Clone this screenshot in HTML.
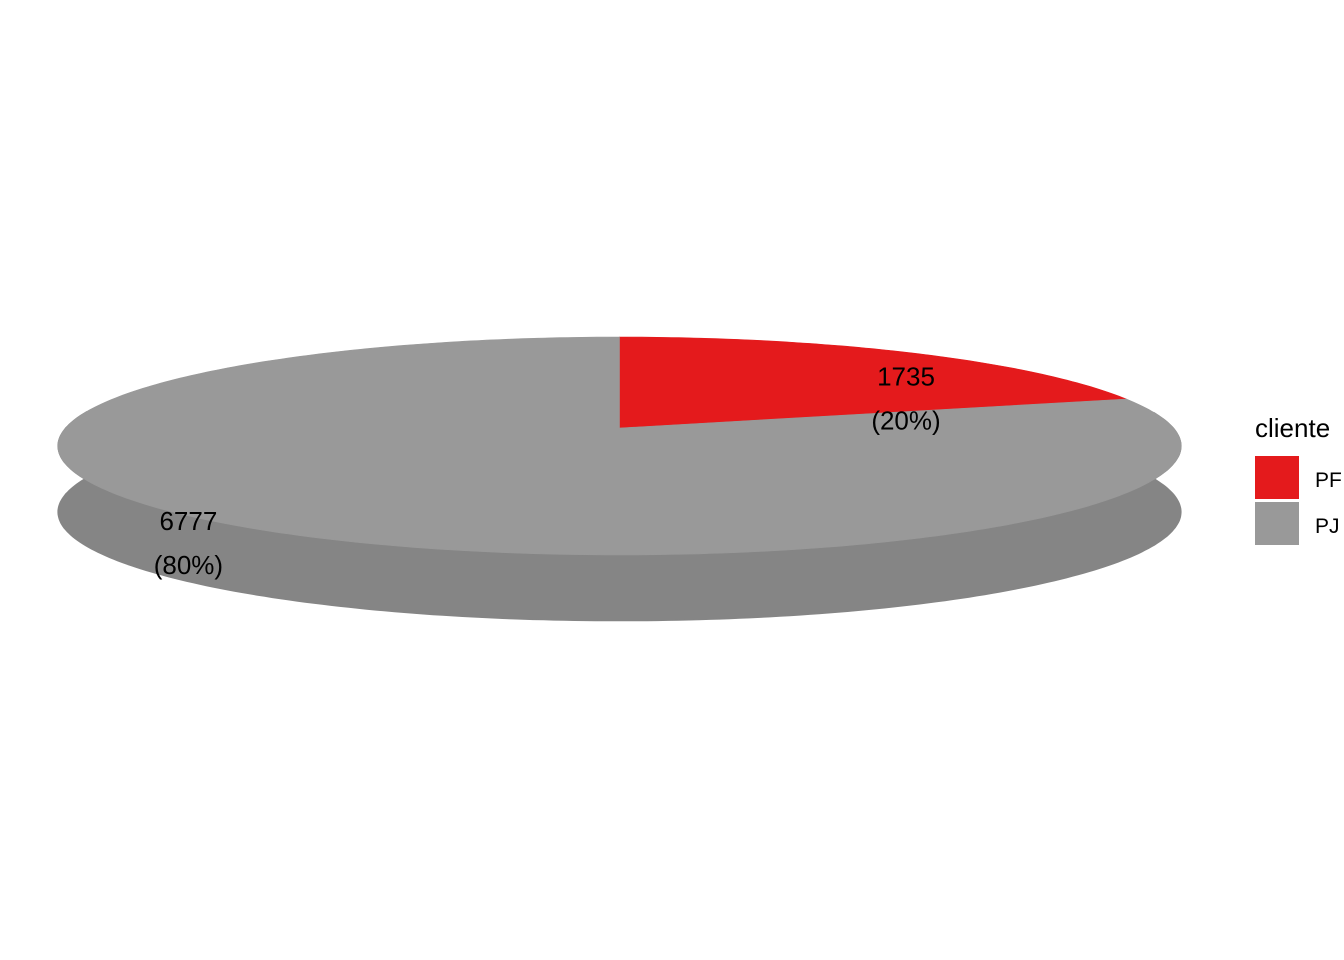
<!DOCTYPE html>
<html><head><meta charset="utf-8"><style>
html,body{margin:0;padding:0;background:#fff;}
svg{display:block;font-family:"Liberation Sans",Arial,sans-serif;}
</style></head><body>
<svg id="chart" width="1344" height="960" viewBox="0 0 1344 960">
<g id="sides"></g>
<g id="tops"></g>
<g id="labels"></g>
<g>
<text x="1255" y="437" font-size="26" fill="#000">cliente</text>
<rect x="1255" y="456" width="44" height="43" fill="#E41A1C"/>
<text x="1315" y="487" font-size="21" fill="#000">PF</text>
<rect x="1255" y="502" width="44" height="43" fill="#999999"/>
<text x="1315" y="533" font-size="21" fill="#000">PJ</text>
</g>
</svg>
<script>
const categories = ["PF","PJ"];
const values = [1735, 6777];
const topColors = ["#E41A1C","#999999"];
const sideColors = ["#B01416","#858585"];

const NS="http://www.w3.org/2000/svg";
const cx=619.5, cy=428, A=106, K=0.165, B=554, DEPTH=66;
function proj(theta){const u=Math.sin(theta),v=Math.cos(theta);const d=1+K*v;return [cx+B*u/d, cy-A*v/d];}
const total=values.reduce((a,b)=>a+b,0);
const sides=document.getElementById('sides'), tops=document.getElementById('tops'), labels=document.getElementById('labels');
let start=0;
values.forEach((val,i)=>{
  const frac=val/total, end=start+frac*2*Math.PI;
  const n=Math.max(4,Math.ceil(frac*400));
  const pts=[];
  for(let j=0;j<=n;j++) pts.push(proj(start+(end-start)*j/n));
  const segs=[];let cur=[];
  for(let j=0;j<=n;j++){const t=start+(end-start)*j/n; const front=Math.cos(t)<0.16;
    if(front) cur.push(pts[j]); else {if(cur.length>1)segs.push(cur);cur=[];}}
  if(cur.length>1)segs.push(cur);
  segs.forEach(s=>{
    let d='M'+s.map(p=>p[0].toFixed(1)+','+p[1].toFixed(1)).join(' L');
    for(let j=s.length-1;j>=0;j--) d+=' L'+s[j][0].toFixed(1)+','+(s[j][1]+DEPTH).toFixed(1);
    d+=' Z';
    const p=document.createElementNS(NS,'path');
    p.setAttribute('d',d);p.setAttribute('fill',sideColors[i]);p.setAttribute('stroke',sideColors[i]);p.setAttribute('stroke-width','0.8');
    
    
    sides.appendChild(p);
  });
  let d='M'+cx+','+cy+' L'+pts.map(p=>p[0].toFixed(1)+','+p[1].toFixed(1)).join(' L')+' Z';
  const p=document.createElementNS(NS,'path');
  p.setAttribute('d',d);p.setAttribute('fill',topColors[i]);p.setAttribute('stroke',topColors[i]);p.setAttribute('stroke-width','0.6');
  
  
  tops.appendChild(p);
  const mid=(start+end)/2;
  const lp=proj(mid);
  const lx=cx+(lp[0]-cx)*(i===0?0.98:1.13), ly=cy+(lp[1]-cy)*(i===0?0.3:1.1)+(i===0?-7:7);
  const pct=Math.round(frac*100);
  [[String(val),0],['('+pct+'%)',44]].forEach((t,k)=>{
    const tx=document.createElementNS(NS,'text');
    tx.setAttribute('x',lx.toFixed(1));tx.setAttribute('y',(ly-22+t[1]+9).toFixed(1));
    tx.setAttribute('text-anchor','middle');tx.setAttribute('font-size','26');tx.setAttribute('fill','#000');
    tx.textContent=t[0];
    
    
    labels.appendChild(tx);
  });
  start=end;
});
</script>
</body></html>
